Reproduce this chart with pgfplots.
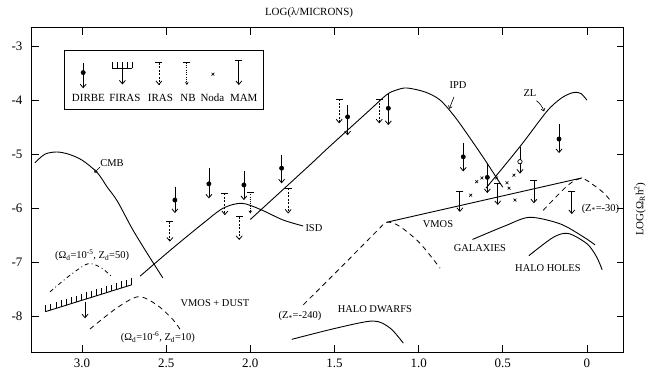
\documentclass[border=0pt]{standalone}
\usepackage{pgfplots}
\pgfplotsset{compat=1.18}
\usepackage{pgfplotstable}
\usepackage{fontspec}
\setmainfont{Liberation Serif}
\usetikzlibrary{arrows.meta}
\newcommand\lab{\fontsize{10.5}{12}\selectfont}
\newcommand\leg{\fontsize{11}{13}\selectfont}
\tikzset{ul/.style={-{Straight Barb[length=3.5bp,width=6bp]}, line width=0.8bp}}

% DIRBE upper limits: x, top of line, length (negative), dot
\pgfplotstableread{
x top dy dot
2.448 -5.59 -0.49 -5.84
2.246 -5.25 -0.56 -5.54
2.038 -5.31 -0.53 -5.56
1.814 -5.00 -0.53 -5.25
1.422 -4.08 -0.56 -4.30
1.180 -3.86 -0.59 -4.14
0.735 -4.79 -0.52 -5.04
0.592 -5.16 -0.55 -5.42
0.166 -4.43 -0.54 -4.71
}\dirbe
\pgfplotstableread{
x top dy dot
0.398 -4.85 -0.50 -5.13
}\opendot
\pgfplotstableread{
x top dy
2.478 -6.24 -0.37
2.151 -5.71 -0.41
2.066 -6.15 -0.43
1.775 -5.62 -0.47
1.472 -3.97 -0.45
1.234 -3.97 -0.45
}\iras
\pgfplotstableread{
x top dy
2.000 -5.69 -0.40
}\nb
\pgfplotstableread{
x top dy
0.755 -5.68 -0.38
0.530 -5.53 -0.40
0.315 -5.48 -0.42
0.090 -5.68 -0.42
}\mam
\pgfplotstableread{
x y
0.655 -5.50
0.624 -5.43
0.537 -5.43
0.475 -5.52
0.463 -5.62
0.434 -5.38
0.691 -5.75
0.428 -5.84
}\noda
\pgfplotstableread{
x y
3.215 -7.905
3.185 -7.876
3.155 -7.847
3.125 -7.818
3.095 -7.789
3.065 -7.759
3.035 -7.730
3.005 -7.701
2.975 -7.672
2.945 -7.643
2.915 -7.614
2.885 -7.585
2.855 -7.556
2.825 -7.526
2.795 -7.497
2.765 -7.468
2.735 -7.439
2.705 -7.410
}\firas

\begin{document}
\begin{tikzpicture}
\begin{axis}[
 scale only axis, width=592bp, height=324bp,
 x dir=reverse, xmin=-0.22, xmax=3.297, ymin=-8.654, ymax=-2.654,
 xtick={0,0.5,1,1.5,2,2.5,3}, xticklabels={0,0.5,1.0,1.5,2.0,2.5,3.0},
 ytick={-8,-7,-6,-5,-4,-3}, yticklabels={-8,-7,-6,-5,-4,-3},
 xtick pos=both, ytick pos=both,
 xticklabel pos=lower, yticklabel pos=left,
 tick align=inside, major tick length=7bp,
 tick style={line width=0.9bp, black},
 axis line style={line width=1bp},
 ticklabel style={font=\fontsize{13}{15}\selectfont},
 yticklabel style={xshift=-6bp},
 xticklabel style={yshift=-3bp},
 clip=false,
]
% CMB
\addplot[smooth, line width=0.9bp] coordinates {(3.28,-5.15)(3.22,-4.99)(3.15,-4.95)(3.08,-4.99)(3.0,-5.1)(2.91,-5.33)(2.85,-5.6)(2.79,-5.86)(2.70,-6.38)(2.61,-6.84)(2.52,-7.28)};
% ISD
\addplot[smooth, line width=0.9bp] coordinates {(2.655,-7.25)(2.468,-6.75)(2.28,-6.27)(2.161,-5.99)(2.052,-5.90)(1.943,-6.01)(1.805,-6.21)(1.686,-6.32)};
% IPD
\addplot[smooth, line width=0.9bp] coordinates {(2.0,-6.2)(1.646,-5.19)(1.547,-4.90)(1.30,-4.20)(1.19,-3.89)(1.13,-3.80)(1.069,-3.765)(0.962,-3.839)(0.873,-3.987)(0.784,-4.302)(0.695,-4.691)(0.606,-5.098)(0.517,-5.524)(0.500,-5.60)};
% ZL
\addplot[smooth, line width=0.9bp] coordinates {(0.600,-5.62)(0.398,-4.85)(0.239,-4.20)(0.16,-3.97)(0.11,-3.88)(0.071,-3.845)(0.035,-3.87)(0.0,-3.99)};
% VMOS
\addplot[line width=0.9bp] coordinates {(1.188,-6.25)(0.030,-5.43)};
% Z=-240 dashed
\addplot[smooth, dash pattern=on 5bp off 4bp, line width=0.8bp] coordinates {(1.685,-7.78)(1.45,-7.05)(1.25,-6.42)(1.188,-6.25)(1.111,-6.33)(0.992,-6.64)(0.873,-7.10)};
% Z=-30 dashed
\addplot[smooth, dash pattern=on 5bp off 4bp, line width=0.8bp] coordinates {(0.26,-6.03)(0.111,-5.56)(0.031,-5.44)(-0.038,-5.56)(-0.10,-5.71)(-0.137,-5.84)};
% Galaxies
\addplot[smooth, line width=0.9bp] coordinates {(0.68,-6.57)(0.48,-6.31)(0.34,-6.16)(0.16,-6.28)(0.022,-6.52)(-0.048,-6.67)};
% Halo holes
\addplot[smooth, line width=0.9bp] coordinates {(0.345,-6.87)(0.20,-6.53)(0.11,-6.46)(0.0,-6.65)(-0.057,-6.89)(-0.09,-7.13)};
% Halo dwarfs
\addplot[smooth, line width=0.9bp] coordinates {(1.754,-8.42)(1.487,-8.21)(1.27,-8.08)(1.17,-8.21)(1.091,-8.49)};
% VMOS + dust
\addplot[smooth, dash pattern=on 4bp off 3bp on 1bp off 3bp, line width=0.8bp] coordinates {(3.19,-7.54)(3.07,-7.23)(2.963,-7.02)(2.883,-7.10)(2.824,-7.26)};
\addplot[smooth, dash pattern=on 5bp off 4bp, line width=0.8bp] coordinates {(2.953,-8.23)(2.794,-7.84)(2.665,-7.63)(2.556,-7.78)(2.458,-8.06)(2.408,-8.28)};
% FIRAS hatched limit
\addplot[mark=none, line width=0.9bp, error bars/.cd, y dir=plus, y fixed=0.12, error mark=none, error bar style={line width=0.7bp}] table {\firas};
\addplot[ul, mark=none, quiver={u=0,v=-0.31}] coordinates {(2.982,-7.72)};
% DIRBE
\addplot[ul, mark=none, quiver={u=0,v=\thisrow{dy}}] table[x=x,y=top] {\dirbe};
\addplot[only marks, mark=*, mark size=2.2bp] table[x=x,y=dot] {\dirbe};
\addplot[ul, mark=none, quiver={u=0,v=\thisrow{dy}}] table[x=x,y=top] {\opendot};
\addplot[only marks, mark=*, mark size=2.2bp, mark options={fill=white, line width=0.7bp}] table[x=x,y=dot] {\opendot};
% IRAS
\addplot[ul, dash pattern=on 2bp off 1.5bp, mark=none, quiver={u=0,v=\thisrow{dy}}] table[x=x,y=top] {\iras};
\addplot[only marks, mark=-, mark size=3.5bp, mark options={line width=0.8bp}] table[x=x,y=top] {\iras};
% NB
\addplot[-{Stealth[length=3bp,width=3.5bp]}, line width=0.8bp, dash pattern=on 1bp off 1.3bp, mark=none, quiver={u=0,v=\thisrow{dy}}] table[x=x,y=top] {\nb};
\addplot[only marks, mark=-, mark size=3.5bp, mark options={line width=0.8bp}] table[x=x,y=top] {\nb};
% MAM
\addplot[ul, mark=none, quiver={u=0,v=\thisrow{dy}}] table[x=x,y=top] {\mam};
\addplot[only marks, mark=-, mark size=3.5bp, mark options={line width=0.8bp}] table[x=x,y=top] {\mam};
% Noda
\addplot[only marks, mark=x, mark size=2bp, mark options={line width=0.6bp}] table {\noda};

% legend box
\draw[line width=0.9bp] (axis cs:3.106,-3.074) rectangle (axis cs:1.923,-4.17);
\addplot[ul, mark=none, quiver={u=0,v=-0.47}] coordinates {(2.993,-3.30)};
\addplot[only marks, mark=*, mark size=2.2bp] coordinates {(2.993,-3.48)};
\addplot[mark=none, line width=0.9bp, error bars/.cd, y dir=plus, y fixed=0.12, error mark=none, error bar style={line width=0.7bp}] coordinates {(2.82,-3.40)(2.79,-3.40)(2.76,-3.40)(2.73,-3.40)(2.70,-3.40)};
\addplot[ul, mark=none, quiver={u=0,v=-0.30}] coordinates {(2.76,-3.40)};
\addplot[ul, dash pattern=on 2bp off 1.5bp, mark=none, quiver={u=0,v=-0.41}] coordinates {(2.543,-3.30)};
\addplot[only marks, mark=-, mark size=3.5bp, mark options={line width=0.8bp}] coordinates {(2.543,-3.30)};
\addplot[-{Stealth[length=3bp,width=3.5bp]}, line width=0.8bp, dash pattern=on 1bp off 1.3bp, mark=none, quiver={u=0,v=-0.41}] coordinates {(2.377,-3.30)};
\addplot[only marks, mark=-, mark size=3.5bp, mark options={line width=0.8bp}] coordinates {(2.377,-3.30)};
\addplot[only marks, mark=x, mark size=2bp, mark options={line width=0.6bp}] coordinates {(2.222,-3.51)};
\addplot[ul, mark=none, quiver={u=0,v=-0.46}] coordinates {(2.068,-3.25)};
\addplot[only marks, mark=-, mark size=3.5bp, mark options={line width=0.8bp}] coordinates {(2.068,-3.25)};
\node[font=\leg] at (axis cs:2.962,-3.94) {DIRBE};
\node[font=\leg] at (axis cs:2.745,-3.94) {FIRAS};
\node[font=\leg] at (axis cs:2.534,-3.94) {IRAS};
\node[font=\leg] at (axis cs:2.370,-3.94) {NB};
\node[font=\leg] at (axis cs:2.225,-3.94) {Noda};
\node[font=\leg] at (axis cs:2.039,-3.94) {MAM};

% annotations
\node[font=\lab] at (axis cs:2.822,-5.154) {CMB};
\draw[-{Straight Barb[length=2.5bp,width=4bp]}, line width=0.6bp] (axis cs:2.893,-5.23) -- (axis cs:2.927,-5.333);
\node[font=\lab] at (axis cs:0.766,-3.72) {IPD};
\draw[-{Straight Barb[length=2.5bp,width=4bp]}, line width=0.6bp] (axis cs:0.79,-3.93) -- (axis cs:0.818,-4.15);
\node[font=\lab] at (axis cs:0.339,-3.86) {ZL};
\draw[-{Straight Barb[length=2.5bp,width=4bp]}, line width=0.6bp] (axis cs:0.30,-4.00) to[bend left=15] (axis cs:0.255,-4.20);
\node[font=\lab] at (axis cs:1.622,-6.36) {ISD};
\node[font=\lab] at (axis cs:0.885,-6.29) {VMOS};
\node[font=\lab] at (axis cs:0.636,-6.73) {GALAXIES};
\node[font=\lab] at (axis cs:0.232,-7.10) {HALO HOLES};
\node[font=\lab] at (axis cs:1.26,-7.86) {HALO DWARFS};
\node[font=\lab] at (axis cs:1.705,-7.99) {(Z\textsubscript{*}=-240)};
\node[font=\lab] at (axis cs:-0.08,-6.0) {(Z\textsubscript{*}=-30)};
\node[font=\lab] at (axis cs:2.94,-6.86) {(Ω\textsubscript{d}=10\textsuperscript{-5}, Z\textsubscript{d}=50)};
\node[font=\lab] at (axis cs:2.549,-8.38) {(Ω\textsubscript{d}=10\textsuperscript{-6}, Z\textsubscript{d}=10)};
\node[font=\lab] at (axis cs:2.21,-7.75) {VMOS + DUST};

\coordinate (bl) at (rel axis cs:0,0);
\coordinate (tr) at (rel axis cs:1,1);
\coordinate (toplab) at (rel axis cs:0.468,1);
\coordinate (rightlab) at (rel axis cs:1,0.441);
\end{axis}
\node[font=\fontsize{11}{13}\selectfont] at ([yshift=15bp]toplab) {LOG(λ/MICRONS)};
\node[font=\fontsize{11}{13}\selectfont, rotate=90] at ([xshift=16bp]rightlab) {LOG(Ω\textsubscript{R}h\textsuperscript{2})};
\pgfresetboundingbox
\path ([shift={(-32bp,-30bp)}]bl) rectangle ([shift={(30bp,28bp)}]tr);
\end{tikzpicture}
\end{document}
